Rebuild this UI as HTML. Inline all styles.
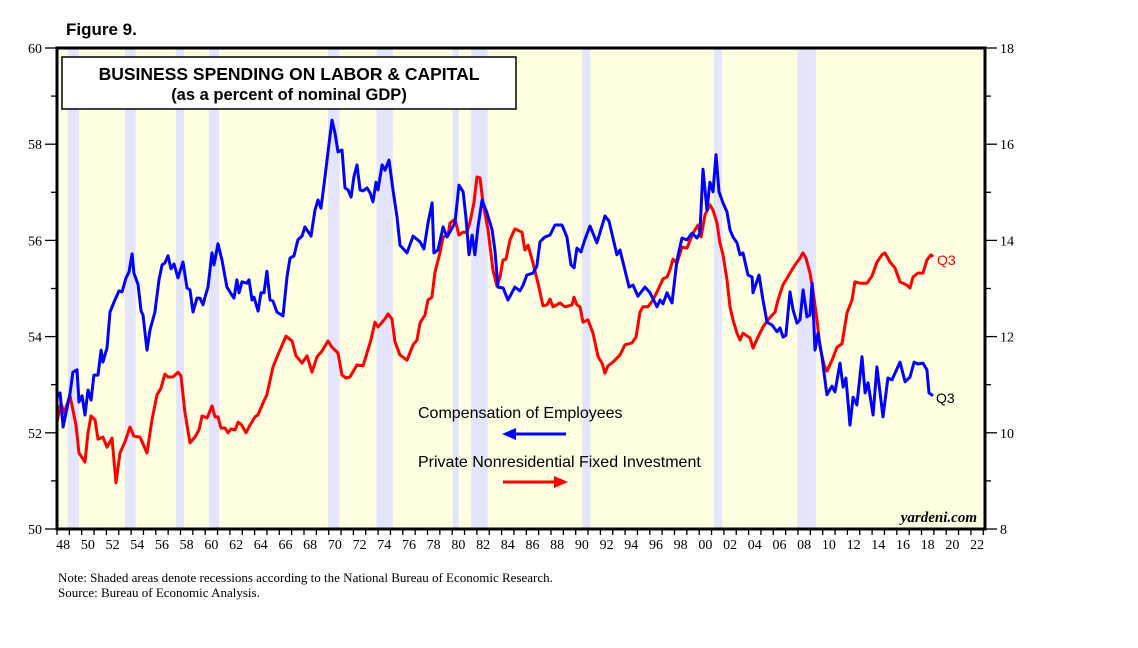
<!DOCTYPE html>
<html><head><meta charset="utf-8"><style>
body{margin:0;background:#fff;width:1138px;height:648px;overflow:hidden;font-family:"Liberation Sans",sans-serif}
svg{display:block}
</style></head><body>
<svg id="chart" width="1138" height="648" xmlns="http://www.w3.org/2000/svg">
<text x="66" y="35" font-size="17" font-weight="bold" font-family="Liberation Sans">Figure 9.</text>
<g id="plot"></g>
</svg>
<script>
const recessionStarts=[1948.87,1953.5,1957.62,1960.29,1969.95,1973.87,1980.04,1981.54,1990.54,2001.2,2007.95];
const recessionEnds=[1949.79,1954.37,1958.29,1961.12,1970.87,1975.2,1980.54,1982.87,1991.2,2001.87,2009.45];
const leftTicks=[50,52,54,56,58,60];
const rightTicks=[8,10,12,14,16,18];
const yearLabels=["48","50","52","54","56","58","60","62","64","66","68","70","72","74","76","78","80","82","84","86","88","90","92","94","96","98","00","02","04","06","08","10","12","14","16","18","20","22"];
const blueOffsets=[0,0.25,0.49,1.06,1.29,1.62,1.78,2.03,2.27,2.51,2.76,2.99,3.32,3.57,3.72,4.05,4.29,4.69,5.02,5.27,5.59,5.83,6.08,6.23,6.56,6.81,6.96,7.29,7.53,7.93,8.26,8.51,8.74,8.99,9.23,9.47,9.8,10.2,10.53,10.77,11.01,11.34,11.58,11.82,11.98,12.23,12.55,12.71,13.04,13.36,13.76,14.17,14.33,14.57,14.74,14.98,15.38,15.55,15.79,15.95,16.28,16.52,16.76,17.0,17.25,17.48,17.81,18.3,18.62,18.87,19.19,19.51,19.84,20.08,20.57,20.89,21.13,21.38,21.7,21.94,22.27,22.51,22.75,23.08,23.32,23.56,23.81,24.04,24.29,24.54,24.78,25.1,25.35,25.59,25.83,25.99,26.32,26.56,26.88,27.21,27.53,27.77,28.34,28.83,29.39,29.71,30.04,30.37,30.52,30.85,31.26,31.58,31.99,32.22,32.55,32.88,33.11,33.36,33.61,33.84,34.09,34.42,34.82,35.23,35.46,35.71,36.12,36.52,37.08,37.49,37.74,38.05,38.55,38.86,39.11,39.51,39.92,40.32,40.89,41.29,41.62,41.87,42.1,42.43,42.68,43.16,43.72,44.37,44.7,45.34,45.59,46.32,46.64,47.04,47.61,48.02,48.58,48.83,49.07,49.39,49.8,50.2,50.61,51.01,51.42,51.82,52.06,52.31,52.63,52.87,53.12,53.36,53.6,53.93,54.25,54.49,54.74,55.06,55.3,55.55,55.95,56.28,56.36,56.84,57.17,57.49,57.9,58.3,58.54,58.79,59.02,59.35,59.6,59.92,60.16,60.41,60.73,60.97,61.14,61.38,61.62,61.94,62.34,62.75,63.0,63.4,63.65,63.88,64.21,64.46,64.77,65.18,65.43,65.67,66.08,66.39,66.88,67.28,67.61,68.26,68.67,69.07,69.4,69.71,70.12,70.44,70.61,70.93];
const blueValues=[52.74,52.83,52.12,52.83,53.26,53.31,52.64,52.77,52.37,52.89,52.68,53.2,53.2,53.72,53.47,53.76,54.51,54.76,54.95,54.93,55.22,55.34,55.72,55.32,55.09,54.53,54.45,53.72,54.14,54.51,55.18,55.49,55.53,55.68,55.41,55.51,55.22,55.55,55.01,54.97,54.51,54.8,54.8,54.66,54.82,55.03,55.74,55.49,55.93,55.59,55.03,54.86,54.8,55.18,54.91,55.14,55.11,55.18,54.76,54.82,54.53,54.91,54.91,55.36,54.76,54.74,54.51,54.43,55.24,55.63,55.68,56.01,56.09,56.28,56.09,56.63,56.84,56.67,57.32,57.84,58.5,58.23,57.84,57.88,57.09,57.05,56.9,57.32,57.57,57.05,57.03,57.09,56.99,56.8,57.21,57.05,57.57,57.46,57.67,57.05,56.49,55.9,55.74,56.09,55.97,55.82,56.36,56.78,55.74,55.8,56.28,56.07,56.26,56.36,57.15,57.01,56.49,55.7,56.11,55.7,56.28,56.84,56.57,56.22,55.8,55.03,55.01,54.76,55.03,54.95,55.07,55.28,55.32,55.47,55.97,56.07,56.11,56.32,56.32,56.07,55.49,55.43,55.84,55.76,55.97,56.3,55.95,56.51,56.4,55.7,55.8,55.03,55.07,54.84,55.03,54.91,54.62,54.76,54.68,54.91,54.7,55.59,56.05,56.01,56.15,56.05,56.15,57.48,56.63,57.21,57.01,57.78,57.01,56.78,56.59,56.22,56.07,55.95,55.7,55.74,55.28,55.24,54.91,55.28,54.76,54.3,54.24,54.1,54.18,53.99,54.03,54.93,54.55,54.28,54.35,54.97,54.41,54.45,55.11,53.72,54.07,53.58,52.79,52.97,52.85,53.45,52.95,53.14,52.16,52.74,52.58,53.58,52.83,53.04,52.37,53.37,52.33,53.14,53.1,53.47,53.06,53.16,53.47,53.43,53.45,53.31,52.83,52.77];
const redOffsets=[0,0.32,0.57,1.05,1.54,1.78,2.27,2.51,2.75,3.08,3.32,3.72,4.05,4.45,4.78,5.1,5.51,5.91,6.23,6.72,7.29,7.69,8.1,8.42,8.74,8.99,9.39,9.8,10.04,10.36,10.77,11.17,11.5,11.74,12.15,12.55,12.79,13.04,13.28,13.6,13.85,14.09,14.41,14.66,14.9,15.3,15.63,16.03,16.27,16.68,17.0,17.49,17.89,18.54,19.03,19.35,19.84,20.24,20.65,21.05,21.46,21.94,22.27,22.75,23.08,23.4,23.72,24.29,24.78,25.1,25.42,25.75,25.99,26.56,26.8,27.12,27.37,27.77,28.34,28.83,29.15,29.39,29.8,30.04,30.36,30.61,31.01,31.26,31.66,31.82,32.23,32.55,32.87,33.2,33.44,33.76,34.01,34.25,34.49,34.9,35.3,35.63,35.87,36.11,36.36,36.68,37.08,37.65,37.89,38.14,38.54,38.95,39.35,39.68,39.92,40.16,40.73,41.13,41.7,41.86,42.1,42.35,42.59,43.0,43.4,43.81,44.13,44.37,44.61,45.02,45.59,45.99,46.56,46.88,47.21,47.45,47.85,48.26,48.66,49.07,49.39,49.63,49.88,50.2,50.61,51.01,51.5,51.9,52.15,52.47,52.87,53.12,53.44,53.68,53.93,54.25,54.49,54.74,55.06,55.3,55.55,56.11,56.36,56.76,57.17,57.57,58.14,58.38,58.78,59.35,59.76,60.16,60.4,60.65,60.97,61.21,61.54,61.78,62.11,62.35,62.75,63.16,63.56,63.97,64.37,64.61,65.02,65.59,65.99,66.4,66.8,67.04,67.45,67.85,68.26,68.82,69.07,69.31,69.72,70.12,70.44,70.77,70.93];
const redValues=[10.22,10.62,10.41,10.77,10.16,9.58,9.39,10.0,10.35,10.27,9.87,9.91,9.7,9.89,8.96,9.58,9.81,10.12,9.93,9.91,9.58,10.27,10.79,10.93,11.22,11.16,11.16,11.26,11.18,10.43,9.79,9.91,10.06,10.35,10.31,10.56,10.33,10.33,10.1,10.1,10.0,10.08,10.06,10.22,10.18,10.0,10.16,10.33,10.37,10.62,10.79,11.37,11.62,12.01,11.91,11.6,11.45,11.6,11.26,11.58,11.7,11.91,11.78,11.66,11.2,11.14,11.16,11.41,11.39,11.66,11.93,12.3,12.2,12.37,12.47,12.37,11.89,11.62,11.51,11.83,11.93,12.28,12.45,12.76,12.82,13.34,13.74,14.07,14.11,14.36,14.44,14.11,14.17,14.17,14.38,14.78,15.32,15.3,14.78,14.22,13.38,13.05,13.24,13.59,13.61,14.01,14.24,14.17,13.8,13.9,13.53,13.11,12.64,12.66,12.78,12.62,12.7,12.62,12.66,12.82,12.66,12.62,12.3,12.35,12.07,11.58,11.45,11.24,11.39,11.47,11.62,11.83,11.87,11.99,12.51,12.62,12.62,12.76,12.97,13.2,13.24,13.38,13.61,13.53,13.86,13.84,14.15,14.32,14.07,14.53,14.74,14.63,14.36,13.95,13.7,13.18,12.62,12.35,12.07,11.93,12.07,11.97,11.76,11.99,12.2,12.35,12.51,12.76,13.07,13.32,13.49,13.63,13.74,13.63,13.32,12.97,12.35,11.78,11.41,11.28,11.51,11.78,11.85,12.49,12.76,13.14,13.11,13.11,13.26,13.55,13.7,13.74,13.55,13.43,13.14,13.07,13.01,13.24,13.32,13.32,13.59,13.7,13.66];

const NS="http://www.w3.org/2000/svg";
const L=57,R=985,T=48,B=529,PX=12.35;
const xT=t=>L+(t-1948)*PX;
const yL=v=>B-(v-50)*(B-T)/10;
const yR=v=>B-(v-8)*(B-T)/10;
const svg=document.getElementById('chart');
function mk(tag,attrs,parent,text){const e=document.createElementNS(NS,tag);for(const k in attrs)e.setAttribute(k,attrs[k]);if(text!==undefined)e.textContent=text;(parent||svg).appendChild(e);return e;}

const bg=mk('rect',{x:L,y:T,width:R-L,height:B-T,fill:'#FFFFE2'});


recessionStarts.forEach((s,i)=>{
  const r=mk('rect',{x:xT(s),y:T,width:xT(recessionEnds[i])-xT(s),height:B-T,fill:'#E4E4FC'});
  
  
});
const tb=mk('rect',{x:62,y:57,width:454,height:52,fill:'#fff',stroke:'#000','stroke-width':1.5});


const t1=mk('text',{x:289,y:80,'text-anchor':'middle','font-size':17.5,'font-weight':'bold'},svg,'BUSINESS SPENDING ON LABOR & CAPITAL');


const t2=mk('text',{x:289,y:100,'text-anchor':'middle','font-size':16.5,'font-weight':'bold'},svg,'(as a percent of nominal GDP)');



function line(offs,vals,yf,color,name){
  const d=offs.map((o,i)=>(i?'L':'M')+xT(1948+o).toFixed(1)+','+yf(vals[i]).toFixed(1)).join('');
  const p=mk('path',{d:d,fill:'none',stroke:color,'stroke-width':3,'stroke-linejoin':'round'});
  
  
}
line(redOffsets,redValues,yR,'#FF0000','investment-line');
line(blueOffsets,blueValues,yL,'#0000FF','compensation-line');

const fr=mk('rect',{x:L,y:T,width:R-L,height:B-T,fill:'none',stroke:'#000','stroke-width':3});



for(let v=50;v<=60;v++){const y=yL(v);mk('line',{x1:L-(v%2?6:12),x2:L,y1:y,y2:y,stroke:'#000','stroke-width':1.3});}
for(let v=8;v<=18;v++){const y=yR(v);mk('line',{x1:R,x2:R+(v%2?6:12),y1:y,y2:y,stroke:'#000','stroke-width':1.3});}
leftTicks.forEach(v=>{const t=mk('text',{x:42,y:yL(v)+5,'text-anchor':'end','font-size':14,'font-family':'Liberation Serif'},svg,v);
  
  });
rightTicks.forEach(v=>{const t=mk('text',{x:1000,y:yR(v)+5,'font-size':14,'font-family':'Liberation Serif'},svg,v);
  
  });
for(let yr=1948;yr<=2023;yr++){const x=xT(yr);if(x<=R)mk('line',{x1:x,x2:x,y1:B,y2:B+6,stroke:'#000','stroke-width':1.3});}
yearLabels.forEach((lab,i)=>{const t=mk('text',{x:xT(1948+2*i+0.5),y:B+20,'text-anchor':'middle','font-size':14,'font-family':'Liberation Serif'},svg,lab);
  
  });

const lg1=mk('text',{x:418,y:418,'font-size':16},svg,'Compensation of Employees');


mk('line',{x1:514,x2:566,y1:434,y2:434,stroke:'#0000FF','stroke-width':3});
mk('polygon',{points:'502,434 516,428 516,440',fill:'#0000FF'});
const lg2=mk('text',{x:418,y:467,'font-size':16},svg,'Private Nonresidential Fixed Investment');


mk('line',{x1:503,x2:556,y1:482,y2:482,stroke:'#FF0000','stroke-width':3});
mk('polygon',{points:'568,482 554,476 554,488',fill:'#FF0000'});

const q1=mk('text',{x:937,y:265,'font-size':14,fill:'#FF0000'},svg,'Q3');


const q2=mk('text',{x:936,y:403,'font-size':14,fill:'#000'},svg,'Q3');


const yd=mk('text',{x:977,y:522,'text-anchor':'end','font-size':15,'font-style':'italic','font-weight':'bold','font-family':'Liberation Serif'},svg,'yardeni.com');


const n1=mk('text',{x:58,y:582,'font-size':13,'font-family':'Liberation Serif'},svg,'Note: Shaded areas denote recessions according to the National Bureau of Economic Research.');


const n2=mk('text',{x:58,y:597,'font-size':13,'font-family':'Liberation Serif'},svg,'Source: Bureau of Economic Analysis.');


</script>
</body></html>
